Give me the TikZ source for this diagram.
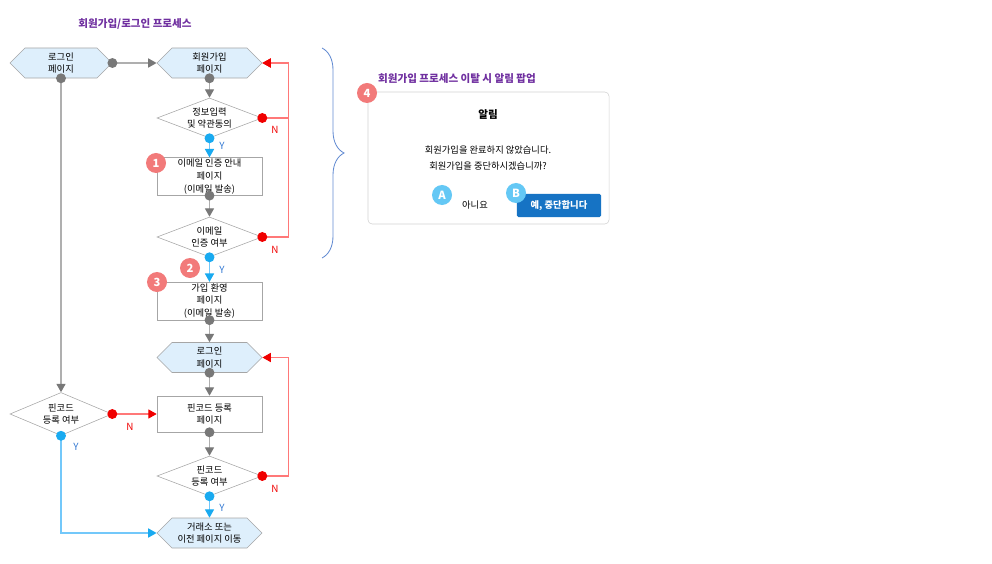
\documentclass[tikz,border=0pt]{standalone}
\usepackage{fontspec}
\setmainfont{Noto Sans CJK KR}
\usepackage{tikz}
\usetikzlibrary{shapes.geometric, shapes.symbols, arrows.meta, decorations.pathreplacing}
\definecolor{titlepurple}{RGB}{112,48,160}
\definecolor{boxline}{RGB}{166,166,166}
\definecolor{pagebg}{RGB}{222,239,252}
\definecolor{linegray}{RGB}{175,175,175}
\definecolor{dotgray}{RGB}{120,120,120}
\definecolor{yline}{RGB}{115,200,250}
\definecolor{ydot}{RGB}{25,170,240}
\definecolor{ytext}{RGB}{50,120,210}
\definecolor{nline}{RGB}{255,120,120}
\definecolor{nred}{RGB}{240,0,0}
\definecolor{badgered}{RGB}{242,122,122}
\definecolor{badgeblue}{RGB}{100,200,245}
\definecolor{btnblue}{RGB}{22,115,196}
\definecolor{bracecol}{RGB}{100,140,210}

\begin{document}
\begin{tikzpicture}[
  x=0.025cm, y=-0.025cm,
  font=\fontsize{6.6}{9}\selectfont,
  page/.style={signal, signal to=east and west, signal pointer angle=90,
               draw=boxline, fill=pagebg, minimum width=2.625cm,
               minimum height=0.75cm, inner sep=1pt, align=center},
  box/.style={rectangle, draw=boxline, minimum width=2.625cm,
              minimum height=0.925cm, inner sep=1pt, align=center},
  check/.style={diamond, aspect=2.6, draw=boxline, minimum width=2.625cm,
                minimum height=1cm, inner sep=0pt, align=center},
  garr/.style={{Circle[length=7pt,color=dotgray]}-{Triangle[length=6pt,width=6.5pt,color=dotgray]},
               linegray, line width=0.9pt, shorten <=-3.5pt},
  narr/.style={{Circle[length=7pt,color=nred]}-{Triangle[length=6pt,width=6.5pt,color=nred]},
               nline, line width=0.9pt, shorten <=-3.5pt},
  yarr/.style={{Circle[length=7pt,color=ydot]}-{Triangle[length=6pt,width=6.5pt,color=ydot]},
               yline, line width=0.9pt, shorten <=-3.5pt},
  nlbl/.style={text=nred, font=\fontsize{7}{8}\selectfont},
  ylbl/.style={text=ytext, font=\fontsize{7}{8}\selectfont},
  badge/.style={circle, fill=badgered, text=white, minimum size=0.5cm,
                inner sep=0pt, font=\fontsize{8}{8}\selectfont\bfseries},
  badgeb/.style={badge, fill=badgeblue},
  heading/.style={text=titlepurple, font=\fontsize{7.5}{9}\selectfont\bfseries}
]
\useasboundingbox (0,0) rectangle (992,564);

\node[heading] (maintitle) at (135,24) {회원가입/로그인 프로세스};

% left column
\node[page, minimum width=2.55cm] (loginL) at (61,63) {로그인\\페이지};
\node[check, minimum width=2.55cm, minimum height=1.075cm] (pinL) at (61,414) {핀코드\\등록 여부};

% main column
\node[page]  (signup)  at (209.5,63)  {회원가입\\페이지};
\node[check] (info)    at (209.5,118) {정보입력\\및 약관동의};
\node[box]   (mailpg)  at (209.5,176.5) {이메일 인증 안내\\페이지\\(이메일 발송)};
\node[check] (mailok)  at (209.5,237) {이메일\\인증 여부};
\node[box]   (welcome) at (209.5,301) {가입 환영\\페이지\\(이메일 발송)};
\node[page]  (login)   at (209.5,357.5) {로그인\\페이지};
\node[box, minimum height=0.9cm] (pinpg) at (209.5,414) {핀코드 등록\\페이지};
\node[check] (pinok)   at (209.5,476) {핀코드\\등록 여부};
\node[page]  (exit)    at (209.5,533) {거래소 또는\\이전 페이지 이동};

% connectors
\draw[garr] (loginL.east) -- (signup.west);
\draw[garr] (loginL.south) -- (pinL.north);
\draw[garr] (signup.south) -- (info.north);
\draw[yarr] (info.south) -- (mailpg.north);
\draw[garr] (mailpg.south) -- (mailok.north);
\draw[yarr] (mailok.south) -- (welcome.north);
\draw[garr] (welcome.south) -- (login.north);
\draw[garr] (login.south) -- (pinpg.north);
\draw[garr] (pinpg.south) -- (pinok.north);
\draw[yarr] (pinok.south) -- (exit.north);
\draw[yarr] (pinL.south) |- (exit.west);
\draw[narr] (pinL.east) -- (pinpg.west);
\draw[narr] (mailok.east) -- ++(26,0) |- (signup.east);
\draw[narr] (info.east) -- ++(26,0) |- (signup.east);
\draw[narr] (pinok.east) -- ++(26,0) |- (login.east);

% labels
\node[nlbl] (n1) at (275,130) {N};
\node[nlbl] (n2) at (275,250) {N};
\node[nlbl] (n3) at (130,427) {N};
\node[nlbl] (n4) at (275,489) {N};
\node[ylbl] (y1) at (222,146) {Y};
\node[ylbl] (y2) at (222,270) {Y};
\node[ylbl] (y3) at (76,447) {Y};
\node[ylbl] (y4) at (222,508) {Y};

% brace
\draw[bracecol, line width=0.6pt, decorate,
      decoration={brace, amplitude=0.55cm, aspect=0.5}] (322,48) -- (322,258);

% popup
\node[heading] (poptitle) at (457,79) {회원가입 프로세스 이탈 시 알림 팝업};
\node[draw=gray!35, fill=white, rounded corners=3pt, minimum width=6.025cm,
      minimum height=3.3cm] (popup) at (488.5,158) {};
\node[font=\fontsize{7.5}{9}\selectfont\bfseries] (alert) at (488,115) {알림};
\node[align=center, font=\fontsize{6.6}{11.5}\selectfont] (msg) at (488,158)
  {회원가입을 완료하지 않았습니다.\\회원가입을 중단하시겠습니까?};
\node (no) at (475,205) {아니요};
\node[fill=btnblue, text=white, minimum width=2.1cm, minimum height=0.575cm,
      inner sep=0pt, rounded corners=1pt, font=\fontsize{6.6}{8}\selectfont\bfseries]
  (yes) at (559,205.5) {예, 중단합니다};

% badges
\node[badge]  (b1) at (156,163) {1};
\node[badge]  (b2) at (190,268) {2};
\node[badge]  (b3) at (157,282) {3};
\node[badge]  (b4) at (367,93)  {4};
\node[badgeb] (ba) at (442,195) {A};
\node[badgeb] (bb) at (516,193) {B};
\end{tikzpicture}
\end{document}
